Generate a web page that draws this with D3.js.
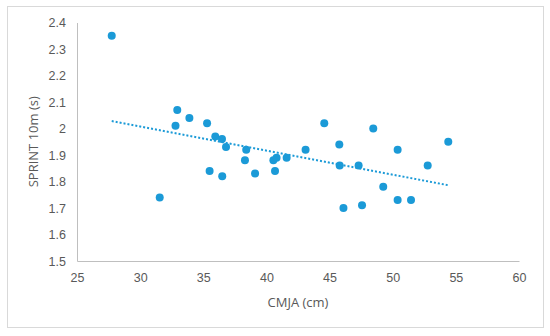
<!DOCTYPE html>
<html>
<head>
<meta charset="utf-8">
<script src="https://cdn.jsdelivr.net/npm/d3@7"></script>
<style>
  body { margin: 0; background: #fff; }
  svg { display: block; font-family: "Open Sans", "Noto Sans", sans-serif; }
</style>
</head>
<body>
<div id="chart"></div>
<script>
// CMJA (cm) vs SPRINT 10m (s)
const cmja = [27.75, 31.55, 32.94, 32.8, 33.9, 35.3, 35.95, 36.48, 36.8, 38.4, 38.3,
  35.5, 36.5, 39.1, 40.55, 40.8, 40.68, 41.6, 43.1, 44.58, 45.77, 45.8, 48.46, 47.3,
  50.39, 52.77, 54.4, 49.25, 50.39, 51.45, 46.1, 47.57];
const sprint = [2.35, 1.74, 2.07, 2.01, 2.04, 2.02, 1.97, 1.96, 1.93, 1.92, 1.88,
  1.84, 1.82, 1.83, 1.88, 1.89, 1.84, 1.89, 1.92, 2.02, 1.94, 1.86, 2.00, 1.86,
  1.92, 1.86, 1.95, 1.78, 1.73, 1.73, 1.70, 1.71];
const xTicks = [25, 30, 35, 40, 45, 50, 55, 60];
const yTicks = [1.5, 1.6, 1.7, 1.8, 1.9, 2, 2.1, 2.2, 2.3, 2.4];

const width = 550, height = 336;
const margin = { left: 77, right: 31, top: 22.5, bottom: 75 };
const blue = "#1b9ad7";

const svg = d3.select("#chart").append("svg")
    .attr("width", width)
    .attr("height", height);

// outer chart border
svg.append("rect")
    .attr("x", 7.5).attr("y", 6.5)
    .attr("width", 536).attr("height", 321)
    .attr("fill", "#fff")
    .attr("stroke", "#d9d9d9");

const x = d3.scaleLinear().domain([25, 60]).range([margin.left, width - margin.right]);
const y = d3.scaleLinear().domain([1.5, 2.4]).range([height - margin.bottom, margin.top]);

// axes
const xAxis = svg.append("g")
    .attr("transform", `translate(0,${y(1.5)})`)
    .call(d3.axisBottom(x).tickValues(xTicks).tickSize(0).tickPadding(12).tickFormat(d3.format("d")));
const yAxis = svg.append("g")
    .attr("transform", `translate(${x(25)},0)`)
    .call(d3.axisLeft(y).tickValues(yTicks).tickSize(0).tickPadding(11).tickFormat(d => String(+d.toFixed(1))));

[xAxis, yAxis].forEach(a => {
    a.select(".domain").attr("stroke", "#bfbfbf");
    a.selectAll("text").attr("fill", "#595959").style("font-size", "12.5px");
});

// axis titles
svg.append("text")
    .attr("x", (x(25) + x(60)) / 2)
    .attr("y", 307)
    .attr("text-anchor", "middle")
    .attr("fill", "#595959")
    .style("font-size", "13px")
    .text("CMJA (cm)");

svg.append("text")
    .attr("transform", `translate(38,${(y(1.5) + y(2.4)) / 2}) rotate(-90)`)
    .attr("text-anchor", "middle")
    .attr("fill", "#595959")
    .style("font-size", "13px")
    .text("SPRINT 10m (s)");

// linear trendline (least squares)
const pts = cmja.map((v, i) => ({ x: v, y: sprint[i] }));
const mx = d3.mean(pts, d => d.x), my = d3.mean(pts, d => d.y);
const slope = d3.sum(pts, d => (d.x - mx) * (d.y - my)) / d3.sum(pts, d => (d.x - mx) ** 2);
const icpt = my - slope * mx;
const [x0, x1] = d3.extent(cmja);

svg.append("line")
    .attr("x1", x(x0)).attr("y1", y(icpt + slope * x0))
    .attr("x2", x(x1)).attr("y2", y(icpt + slope * x1))
    .attr("stroke", blue)
    .attr("stroke-width", 2)
    .attr("stroke-dasharray", "2,2");

// points
svg.append("g")
    .selectAll("circle")
    .data(pts)
    .join("circle")
    .attr("cx", d => x(d.x))
    .attr("cy", d => y(d.y))
    .attr("r", 4)
    .attr("fill", blue);
</script>
</body>
</html>
